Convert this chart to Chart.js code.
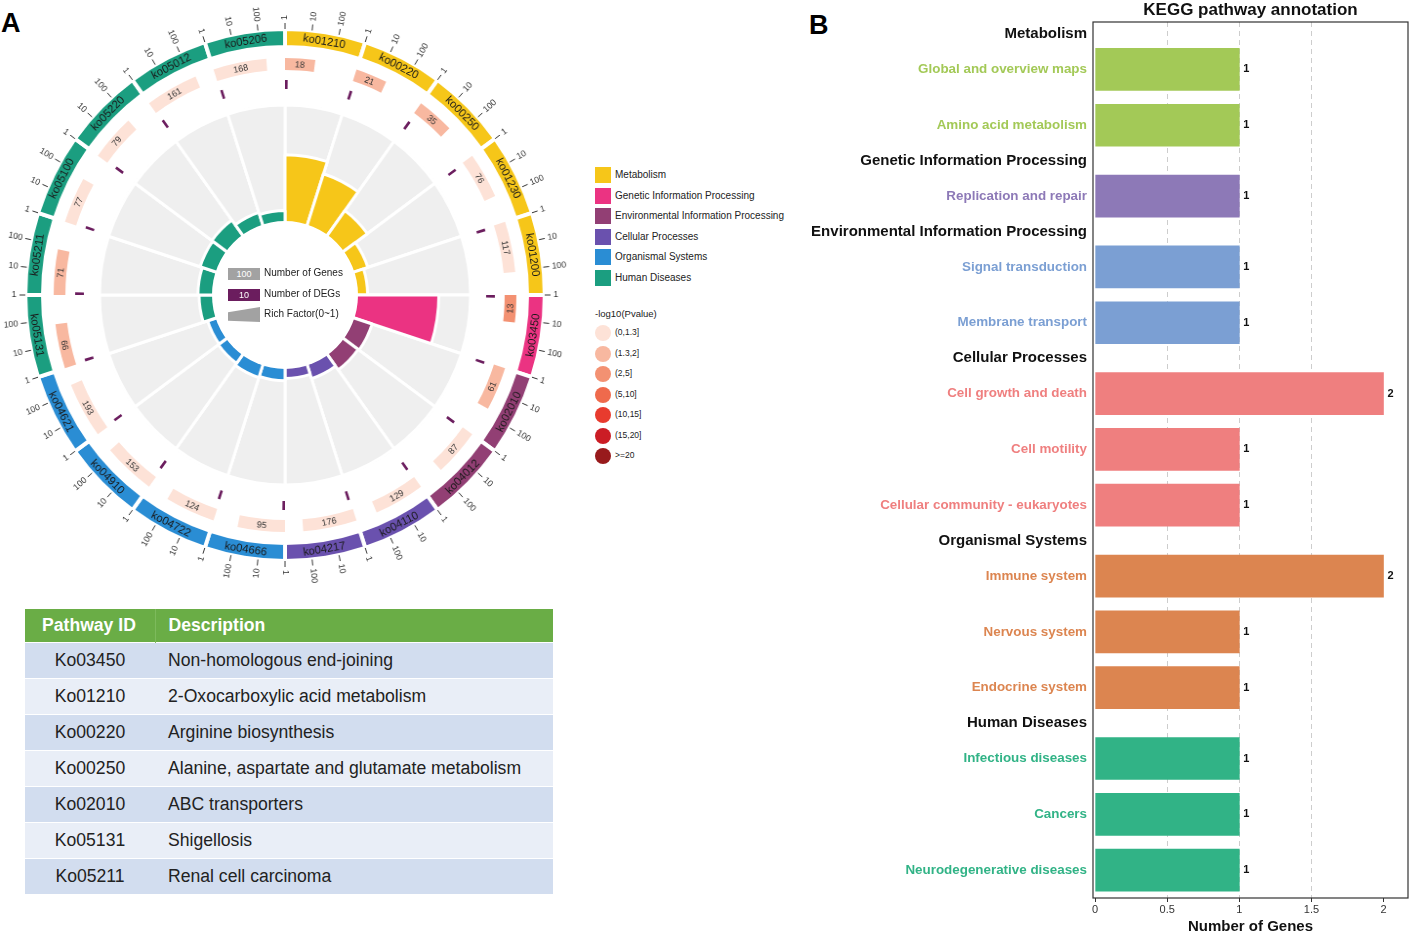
<!DOCTYPE html>
<html>
<head>
  <title>KEGG enrichment of DEGs</title>
  <style>
    body {
      margin: 0;
      width: 1411px;
      height: 936px;
      position: relative;
      overflow: hidden;
      background: #fff;
      font-family: "Liberation Sans", Arial, sans-serif;
      color: #222;
    }
    .abs { position: absolute; }
    .panel-label { font-weight: bold; font-size: 27px; color: #000; }
    #centerDisk {
      left: 212px; top: 221px; width: 146px; height: 148px;
      border-radius: 50%; background: #fff;
    }
    .ckey { position: absolute; left: 228px; width: 32px; color: #fff; font-size: 9px; text-align: center; }
    .ctext { position: absolute; left: 264px; font-size: 10px; color: #222; white-space: nowrap; }
    .lg-row { position: absolute; left: 595px; font-size: 10px; color: #222; white-space: nowrap; }
    .lg-sw { display: inline-block; width: 16px; height: 16px; vertical-align: middle; margin-right: 4px; }
    .lg-dot { display: inline-block; width: 16px; height: 16px; border-radius: 50%; vertical-align: middle; margin-right: 4px; }
    #tbl {
      left: 25px; top: 609px; width: 528px;
      border-collapse: collapse; font-size: 17.6px;
    }
    #tbl th {
      background: #6aad46; color: #fff; font-weight: bold; text-align: left;
      height: 33px; padding: 0 0 0 13px;
    }
    #tbl th:first-child { padding-left: 17px; border-right: 1px solid #7dba5c; }
    #tbl td { height: 35px; padding: 0 0 0 13px; border-top: 1px solid #fff; color: #222; }
    #tbl td:first-child { text-align: center; padding: 0; width: 130px; }
    #tbl tr:nth-child(even) td { background: #d2ddef; }
    #tbl tr:nth-child(odd) td { background: #e9eef7; }
  </style>
</head>
<body>
  <div class="abs panel-label" style="left:1px; top:8px;">A</div>
  <div class="abs panel-label" style="left:809px; top:10px;">B</div>

  <!-- the circle in the source is a touch narrower than it is tall, hence 576 wide for 590 -->
  <canvas id="polar" class="abs" width="590" height="592" style="left:-3px; top:0; width:576px; height:592px;"></canvas>
  <div id="centerDisk" class="abs"></div>
  <canvas id="rings" class="abs" width="590" height="592" style="left:-3px; top:0; width:576px; height:592px;"></canvas>

  <div id="centerKey"></div>
  <div id="legend"></div>
  <table id="tbl" class="abs"></table>

  <canvas id="bars" class="abs" width="611" height="936" style="left:800px; top:0;"></canvas>

  <script src="https://cdn.jsdelivr.net/npm/chart.js@4"></script>
  <script>
    // ---- panel A data ----
    const categories = ['Metabolism', 'Genetic Information Processing', 'Environmental Information Processing',
      'Cellular Processes', 'Organismal Systems', 'Human Diseases'];
    const categoryColors = ['#f6c619', '#eb3382', '#923f74', '#6a51ae', '#2a8dd4', '#1b9e80'];

    const pathwayIds = ['ko01210', 'ko00220', 'ko00250', 'ko01230', 'ko01200', 'ko03450', 'ko02010', 'ko04012',
      'ko04110', 'ko04217', 'ko04666', 'ko04722', 'ko04910', 'ko04621', 'ko05131', 'ko05211', 'ko05100',
      'ko05220', 'ko05012', 'ko05206'];
    const pathwayCategory = [0, 0, 0, 0, 0, 1, 2, 2, 3, 3, 4, 4, 4, 4, 5, 5, 5, 5, 5, 5];
    const geneCounts = [18, 21, 35, 76, 117, 13, 61, 87, 129, 176, 95, 124, 153, 193, 66, 71, 77, 79, 161, 168];
    const degCounts = [1, 1, 1, 1, 1, 1, 1, 1, 1, 1, 1, 1, 1, 1, 1, 1, 1, 1, 1, 1];
    const pvalueBin = [1, 1, 1, 0, 0, 2, 1, 0, 0, 0, 0, 0, 0, 0, 1, 1, 0, 0, 0, 0];
    const richFactor = [0.57, 0.46, 0.26, 0.13, 0.09, 0.72, 0.17, 0.16, 0.12, 0.08, 0.10, 0.11, 0.09, 0.08,
      0.12, 0.13, 0.15, 0.16, 0.11, 0.09];
    const pvalueLabels = ['(0,1.3]', '(1.3,2]', '(2,5]', '(5,10]', '(10,15]', '(15,20]', '>=20'];
    const pvalueColors = ['#fde2d7', '#f8b8a0', '#f39172', '#ef6a4c', '#e83b2e', '#cb1d25', '#981a1c'];
    const logTicks = [1, 10, 100];

    const tableIds = ['Ko03450', 'Ko01210', 'Ko00220', 'Ko00250', 'Ko02010', 'Ko05131', 'Ko05211'];
    const tableDescriptions = ['Non-homologous end-joining', '2-Oxocarboxylic acid metabolism',
      'Arginine biosynthesis', 'Alanine, aspartate and glutamate metabolism', 'ABC transporters',
      'Shigellosis', 'Renal cell carcinoma'];

    // ---- panel B data ----
    const groupNames = ['Metabolism', 'Genetic Information Processing', 'Environmental Information Processing',
      'Cellular Processes', 'Organismal Systems', 'Human Diseases'];
    const groupColors = ['#a3c957', '#8d79b7', '#7b9fd3', '#ef7f7f', '#dc8550', '#31b386'];
    const termNames = ['Global and overview maps', 'Amino acid metabolism', 'Replication and repair',
      'Signal transduction', 'Membrane transport', 'Cell growth and death', 'Cell motility',
      'Cellular community - eukaryotes', 'Immune system', 'Nervous system', 'Endocrine system',
      'Infectious diseases', 'Cancers', 'Neurodegenerative diseases'];
    const termGroup = [0, 0, 1, 2, 2, 3, 3, 3, 4, 4, 4, 5, 5, 5];
    const termGenes = [1, 1, 1, 1, 1, 2, 1, 1, 2, 1, 1, 1, 1, 1];
    const xTicks = [0, 0.5, 1, 1.5, 2];

    const FONT = '"Liberation Sans", Arial, sans-serif';
    Chart.defaults.font.family = FONT;

    // ---------- HTML bits: center key, side legend, table ----------
    const centerKey = document.getElementById('centerKey');
    centerKey.innerHTML = `
      <div class="ckey" style="top:268px;height:12px;line-height:12px;background:#a2a2a2;">100</div>
      <div class="ctext" style="top:267px;">Number of Genes</div>
      <div class="ckey" style="top:289px;height:12px;line-height:12px;background:#6b1d5e;">10</div>
      <div class="ctext" style="top:288px;">Number of DEGs</div>
      <div class="ckey" style="top:307px;height:15px;background:#a2a2a2;clip-path:polygon(0 35%,100% 0,100% 100%,0 92%);"></div>
      <div class="ctext" style="top:308px;">Rich Factor(0~1)</div>`;

    const legend = document.getElementById('legend');
    categories.forEach((c, i) => {
      const d = document.createElement('div');
      d.className = 'lg-row';
      d.style.top = (167 + i * 20.6) + 'px';
      d.innerHTML = `<span class="lg-sw" style="background:${categoryColors[i]}"></span>${c}`;
      legend.appendChild(d);
    });
    const pTitle = document.createElement('div');
    pTitle.className = 'lg-row';
    pTitle.style.top = '308px';
    pTitle.style.fontSize = '9.5px';
    pTitle.textContent = '-log10(Pvalue)';
    legend.appendChild(pTitle);
    pvalueLabels.forEach((p, i) => {
      const d = document.createElement('div');
      d.className = 'lg-row';
      d.style.top = (325 + i * 20.5) + 'px';
      d.style.fontSize = '8.5px';
      d.innerHTML = `<span class="lg-dot" style="background:${pvalueColors[i]}"></span>${p}`;
      legend.appendChild(d);
    });

    const tbl = document.getElementById('tbl');
    let html = '<tr><th>Pathway ID</th><th>Description</th></tr>';
    tableIds.forEach((id, i) => { html += `<tr><td>${id}</td><td>${tableDescriptions[i]}</td></tr>`; });
    tbl.innerHTML = html;

    // ---------- panel A: rich factor bars (polar area) ----------
    new Chart(document.getElementById('polar'), {
      type: 'polarArea',
      data: {
        labels: pathwayIds,
        datasets: [
          {
            data: richFactor,
            backgroundColor: pathwayCategory.map(c => categoryColors[c]),
            borderColor: '#fff',
            borderWidth: 3
          },
          {
            // grey track behind each bar, full scale
            data: pathwayIds.map(() => 1),
            backgroundColor: '#efefef',
            borderColor: '#fff',
            borderWidth: 3
          }
        ]
      },
      options: {
        responsive: false,
        animation: false,
        layout: { padding: { left: 105, right: 105, top: 105, bottom: 107 } },
        plugins: { legend: { display: false }, tooltip: { enabled: false } },
        scales: {
          r: {
            min: -0.64,
            max: 1,
            z: 1,
            ticks: { display: false },
            angleLines: { display: false },
            pointLabels: { display: false },
            grid: { color: '#d2d2d2', lineWidth: 1.5 },
            afterBuildTicks: s => { s.ticks = [{ value: 1 }]; }
          }
        }
      }
    });

    // ---------- panel A: outer rings (doughnut) ----------
    const logDecades = 3;      // each sector spans 1..1000 on a log scale
    const degMinMark = 0.12;   // keep a value of 1 visible as a thin mark

    const geneRing = [], geneRingColors = [];
    geneCounts.forEach((n, i) => {
      const v = Math.log10(n);
      geneRing.push(v, logDecades - v);
      geneRingColors.push(pvalueColors[pvalueBin[i]], 'rgba(0,0,0,0)');
    });
    const degRing = [], degRingColors = [];
    degCounts.forEach(d => {
      const v = Math.max(Math.log10(d), degMinMark);
      degRing.push(v, logDecades - v);
      degRingColors.push('#6b1d5e', 'rgba(0,0,0,0)');
    });

    function tangentRot(a) {
      let rot = a + Math.PI / 2;
      if (Math.sin(a) > 1e-6) rot -= Math.PI;
      return rot;
    }

    const ringText = {
      id: 'ringText',
      afterDatasetsDraw(chart) {
        const ctx = chart.ctx;
        const band = chart.getDatasetMeta(0).data;
        const genes = chart.getDatasetMeta(2).data;
        ctx.save();
        ctx.textBaseline = 'middle';

        band.forEach((arc, i) => {
          const mid = (arc.startAngle + arc.endAngle) / 2;
          const r = (arc.innerRadius + arc.outerRadius) / 2;
          ctx.save();
          ctx.translate(arc.x + r * Math.cos(mid), arc.y + r * Math.sin(mid));
          ctx.rotate(tangentRot(mid));
          ctx.textAlign = 'center';
          ctx.fillStyle = '#1a1a1a';
          ctx.font = '11.4px ' + FONT;
          ctx.fillText(pathwayIds[i], 0, 0.5);
          ctx.restore();

          // log ticks 1 / 10 / 100 along the sector
          const span = arc.endAngle - arc.startAngle;
          logTicks.forEach(t => {
            const a = arc.startAngle + span * Math.log10(t) / logDecades;
            const c = Math.cos(a), s = Math.sin(a);
            ctx.strokeStyle = '#333';
            ctx.lineWidth = 1;
            ctx.beginPath();
            ctx.moveTo(arc.x + (arc.outerRadius) * c, arc.y + (arc.outerRadius) * s);
            ctx.lineTo(arc.x + (arc.outerRadius + 6) * c, arc.y + (arc.outerRadius + 6) * s);
            ctx.stroke();
            ctx.save();
            ctx.translate(arc.x + (arc.outerRadius + 9) * c, arc.y + (arc.outerRadius + 9) * s);
            ctx.fillStyle = '#333';
            ctx.font = '8.8px ' + FONT;
            if (c >= -1e-6) { ctx.rotate(a); ctx.textAlign = 'left'; }
            else { ctx.rotate(a + Math.PI); ctx.textAlign = 'right'; }
            ctx.fillText(String(t), 0, 0);
            ctx.restore();
          });
        });

        // gene counts inside their bars
        geneCounts.forEach((n, i) => {
          const arc = genes[2 * i];
          const mid = (arc.startAngle + arc.endAngle) / 2;
          const r = (arc.innerRadius + arc.outerRadius) / 2;
          ctx.save();
          ctx.translate(arc.x + r * Math.cos(mid), arc.y + r * Math.sin(mid));
          ctx.rotate(tangentRot(mid));
          ctx.textAlign = 'center';
          ctx.fillStyle = '#333';
          ctx.font = '9px ' + FONT;
          ctx.fillText(String(n), 0, 0.5);
          ctx.restore();
        });
        ctx.restore();
      }
    };

    new Chart(document.getElementById('rings'), {
      type: 'doughnut',
      data: {
        labels: pathwayIds.flatMap(id => [id, id]),
        datasets: [
          {
            data: pathwayIds.map(() => 1),
            backgroundColor: pathwayCategory.map(c => categoryColors[c]),
            borderColor: '#fff', borderWidth: 4, weight: 18
          },
          { data: [1], backgroundColor: 'rgba(0,0,0,0)', borderWidth: 0, weight: 11 },
          { data: geneRing, backgroundColor: geneRingColors, borderWidth: 0, weight: 12 },
          { data: [1], backgroundColor: 'rgba(0,0,0,0)', borderWidth: 0, weight: 10 },
          { data: degRing, backgroundColor: degRingColors, borderWidth: 0, weight: 9 }
        ]
      },
      options: {
        responsive: false,
        animation: false,
        radius: 266,
        cutout: '77.44%',
        layout: { padding: { left: 29, right: 29, top: 29, bottom: 31 } },
        plugins: { legend: { display: false }, tooltip: { enabled: false } }
      },
      plugins: [ringText]
    });

    // ---------- panel B: horizontal bars ----------
    // row positions: one unit per bar, a wider step where a new group header sits
    const rowPos = [], headerPos = [];
    let cursor = 0;
    termGroup.forEach((g, i) => {
      if (i === 0 || termGroup[i - 1] !== g) {
        if (i > 0) cursor += 1.27;
        headerPos[g] = cursor - 0.635;
      } else {
        cursor += 1;
      }
      rowPos.push(cursor);
    });

    const yTicks = [];
    groupNames.forEach((g, gi) => yTicks.push({ value: headerPos[gi], label: g, color: '#111', header: true }));
    termNames.forEach((t, i) => yTicks.push({ value: rowPos[i], label: t, color: groupColors[termGroup[i]], header: false }));
    yTicks.sort((a, b) => a.value - b.value);
    const yTickAt = i => yTicks[i] || { label: '', color: '#111', header: false };

    const frame = {
      id: 'frame',
      afterDraw(chart) {
        const { ctx, chartArea: a } = chart;
        ctx.save();
        ctx.strokeStyle = '#333';
        ctx.lineWidth = 1.2;
        ctx.strokeRect(a.left, a.top, a.right - a.left, a.bottom - a.top);
        ctx.restore();
      }
    };
    const valueLabels = {
      id: 'valueLabels',
      afterDatasetsDraw(chart) {
        const ctx = chart.ctx;
        ctx.save();
        ctx.font = 'bold 11px ' + FONT;
        ctx.fillStyle = '#111';
        ctx.textAlign = 'left';
        ctx.textBaseline = 'middle';
        chart.getDatasetMeta(0).data.forEach((bar, i) => {
          ctx.fillText(String(termGenes[i]), bar.x + 4, bar.y);
        });
        ctx.restore();
      }
    };

    new Chart(document.getElementById('bars'), {
      type: 'bar',
      data: {
        datasets: [{
          data: termGenes.map((v, i) => ({ x: v, y: rowPos[i] })),
          backgroundColor: termGroup.map(g => groupColors[g]),
          borderWidth: 0,
          barThickness: 42
        }]
      },
      options: {
        indexAxis: 'y',
        responsive: false,
        animation: false,
        layout: { padding: { left: 0, right: 3, top: 0, bottom: 0 } },
        plugins: {
          legend: { display: false },
          tooltip: { enabled: false },
          title: {
            display: true,
            text: 'KEGG pathway annotation',
            fullSize: false,
            color: '#111',
            font: { size: 17, weight: 'bold' },
            padding: { top: 0, bottom: 1.6 }
          }
        },
        scales: {
          x: {
            type: 'linear',
            min: -0.015,
            max: 2.17,
            afterBuildTicks: s => { s.ticks = xTicks.map(v => ({ value: v })); },
            afterFit: s => { s.height = 38; },
            grid: {
              color: c => (c.tick && c.tick.value > 0 && c.tick.value < 2) ? '#cdcdcd' : 'rgba(0,0,0,0)',
              tickColor: '#333',
              tickLength: 4,
              lineWidth: 1
            },
            border: { display: false, dash: [5, 4] },
            ticks: { color: '#333', font: { size: 11 }, padding: 1, callback: v => String(v) },
            title: {
              display: true,
              text: 'Number of Genes',
              color: '#111',
              font: { size: 15, weight: 'bold' },
              padding: { top: 0, bottom: 0 }
            }
          },
          y: {
            type: 'linear',
            reverse: true,
            offset: false,
            min: -0.85,
            max: rowPos[rowPos.length - 1] + 0.5,
            afterBuildTicks: s => { s.ticks = yTicks.map(t => ({ value: t.value })); },
            afterFit: s => { s.width = 293; },
            grid: { display: false, drawTicks: false, offset: false },
            border: { display: false },
            ticks: {
              autoSkip: false,
              padding: 6,
              callback: (v, i) => yTickAt(i).label,
              color: c => yTickAt(c.index).color,
              font: c => yTickAt(c.index).header
                ? { size: 15, weight: 'bold', family: FONT }
                : { size: 13.4, weight: 'bold', family: FONT }
            }
          }
        }
      },
      plugins: [frame, valueLabels]
    });
  </script>
</body>
</html>
